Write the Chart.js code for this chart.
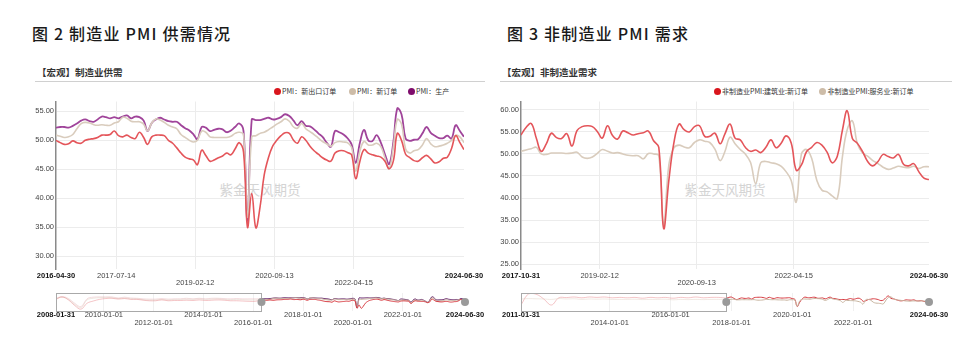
<!DOCTYPE html>
<html lang="zh-CN">
<head>
<meta charset="utf-8">
<title>制造业PMI供需情况 / 非制造业PMI需求</title>
<script src="https://cdn.jsdelivr.net/npm/chart.js@4.4.1/dist/chart.umd.min.js"></script>
<style>
  html, body { margin:0; padding:0; background:#fff; }
  body { position:relative; width:963px; height:338px; overflow:hidden; }
  .abs { position:absolute; white-space:nowrap; }
  .fig-title { font-family:"Noto Sans CJK SC", sans-serif; font-size:16px; line-height:16px; letter-spacing:1.2px; font-weight:500; color:#1a1a1a; }
  .sub-title { font-family:"Noto Sans CJK SC", sans-serif; font-size:9.5px; line-height:10px; font-weight:700; color:#333; }
  .rule { height:1px; background:#d0d0d0; }
  .item { font-family:"Noto Sans CJK SC", sans-serif; font-size:7px; line-height:8px; color:#333; display:flex; align-items:center; }
  .dot { display:inline-block; width:7px; height:7px; border-radius:50%; margin-right:1.5px; }
  .mark { font-family:"Noto Sans CJK SC", sans-serif; font-size:13.5px; line-height:14px; color:#d4d4d4; transform:translate(-50%,-50%); }
  canvas { position:absolute; }
</style>
</head>
<body>
<div class="abs fig-title" style="left:32px;top:25px">图 2 制造业 PMI 供需情况</div>
<div class="abs fig-title" style="left:507px;top:25px">图 3 非制造业 PMI 需求</div>
<div class="abs sub-title" style="left:37px;top:67px">【宏观】制造业供需</div>
<div class="abs sub-title" style="left:502px;top:67px">【宏观】非制造业需求</div>
<div class="abs rule" style="left:35px;top:81px;width:450px"></div>
<div class="abs rule" style="left:500px;top:81px;width:452px"></div>

<div class="abs item" style="left:273.5px;top:87px"><span class="dot" style="background:#d9161d"></span>PMI：新出口订单</div>
<div class="abs item" style="left:348.5px;top:87px"><span class="dot" style="background:#cdbca8"></span>PMI：新订单</div>
<div class="abs item" style="left:407.5px;top:87px"><span class="dot" style="background:#7e0c6c"></span>PMI：生产</div>
<div class="abs item" style="left:713.5px;top:87px"><span class="dot" style="background:#d9161d"></span>非制造业PMI:建筑业:新订单</div>
<div class="abs item" style="left:819px;top:87px"><span class="dot" style="background:#cdbca8"></span>非制造业PMI:服务业:新订单</div>

<div class="abs mark" style="left:260px;top:189px">紫金天风期货</div>
<div class="abs mark" style="left:725px;top:189px">紫金天风期货</div>

<canvas id="mfgMain" width="500" height="200" style="left:0;top:95px"></canvas>
<canvas id="mfgNav" width="500" height="50" style="left:0;top:288px"></canvas>
<canvas id="nonMain" width="500" height="200" style="left:465px;top:95px"></canvas>
<canvas id="nonNav" width="500" height="50" style="left:465px;top:288px"></canvas>

<script>
// ---------- manufacturing PMI: monthly, 2016-04 .. 2024-06 ----------
const mfgFirstMonth = '2016-04';
const mfgExportOrders = [
  50.0, 49.6, 49.3, 49.4, 49.9, 49.6, 49.5, 50.0, 50.2,
  50.3, 50.5, 50.9, 50.9, 51.0, 51.6, 50.8, 50.6, 50.9, 50.5, 50.3, 51.4,
  50.5, 49.3, 50.6, 50.9, 50.9, 50.8, 50.0, 49.5, 48.7, 47.8, 47.1, 46.8,
  46.6, 45.8, 48.3, 47.4, 46.4, 46.6, 47.0, 47.3, 47.8, 47.5, 48.5, 49.6,
  48.0, 35.0, 40.8, 34.9, 38.5, 44.0, 47.0, 49.0, 50.0, 50.8, 51.3, 51.2,
  50.0, 49.5, 50.6, 50.0, 49.0, 48.2, 47.6, 47.0, 46.6, 46.4, 47.8, 48.2,
  48.2, 47.9, 47.5, 43.4, 46.4, 48.4, 47.8, 47.5, 47.3, 47.1, 46.4, 45.1,
  46.5, 51.2, 50.0, 47.6, 47.0, 46.5, 46.4, 47.0, 47.4, 46.8, 46.1, 46.3,
  46.9, 47.1, 48.6, 50.8, 49.6, 48.4
];
const mfgNewOrders = [
  50.9, 50.7, 50.5, 50.6, 51.0, 52.0, 52.9, 53.1, 53.0,
  52.7, 52.6, 52.7, 52.6, 52.6, 53.0, 53.2, 54.0, 53.8, 53.3, 53.2, 53.2,
  52.8, 51.6, 53.0, 53.7, 53.5, 53.1, 52.6, 52.3, 52.0, 51.0, 50.5, 50.0,
  49.7, 50.0, 51.6, 51.4, 50.6, 50.5, 50.5, 50.5, 50.5, 50.7, 51.2, 51.4,
  51.0, 36.7, 50.6, 50.8, 51.2, 51.4, 51.8, 52.3, 52.8, 53.2, 53.7, 53.3,
  52.3, 52.1, 52.9, 52.0, 51.5, 51.0, 50.4, 49.8, 49.4, 49.0, 49.6, 49.8,
  49.7, 49.6, 48.8, 44.7, 48.2, 49.8, 49.2, 49.2, 49.5, 48.9, 47.0, 45.1,
  49.0, 53.6, 52.8, 48.5, 47.8, 48.2, 48.4, 49.2, 50.3, 49.4, 48.9, 49.0,
  49.2, 49.5, 50.0, 50.9, 50.6, 49.6
];
const mfgProduction = [
  52.2, 52.3, 52.3, 52.2, 52.5, 52.9, 53.4, 53.6, 53.3,
  53.2, 53.6, 54.1, 54.0, 53.8, 54.0, 53.8, 54.1, 54.3, 53.8, 54.1, 54.0,
  53.4, 51.6, 53.0, 53.6, 53.9, 53.6, 53.3, 53.2, 53.2, 52.6, 52.1, 51.7,
  51.0, 50.2, 52.3, 52.2, 51.6, 51.8, 52.0, 51.9, 51.4, 51.7, 52.3, 52.9,
  51.6, 36.1, 53.6, 53.5, 53.5, 53.7, 53.9, 53.6, 53.7, 54.0, 54.5, 54.2,
  53.4, 52.6, 53.3, 52.5, 52.4, 51.9, 51.2, 50.6, 49.6, 48.9, 51.6, 51.4,
  51.0, 50.4, 49.3, 46.1, 49.6, 51.8, 50.0, 49.9, 50.9, 49.6, 47.6, 45.9,
  49.8, 55.5, 54.5, 50.3, 49.9, 50.1, 50.2, 51.2, 52.3, 51.3, 50.8, 50.4,
  50.4, 50.8, 50.3, 52.6, 51.6, 50.6
];
// earlier history shown only in the range selector: quarterly, 2008-01 .. 2016-01
const mfgHistFirstMonth = '2008-01';
const mfgExportHist = [
  51.1, 55.3, 50.0, 40.0,  33.3, 44.0, 48.0, 51.0,  52.5, 53.0, 51.5, 52.5,
  51.0, 51.0, 49.5, 48.5,  48.5, 50.0, 48.5, 49.0,  49.0, 49.5, 49.0, 50.0,
  49.0, 49.5, 50.0, 49.5,  48.5, 48.5, 48.0, 47.5,  47.5
];
const mfgNewOrdersHist = [
  52.0, 55.0, 51.0, 42.0,  36.0, 50.0, 53.0, 54.0,  54.5, 54.0, 52.5, 53.5,
  52.0, 52.0, 50.5, 50.0,  50.0, 51.0, 50.0, 51.0,  51.0, 51.5, 51.0, 52.0,
  51.0, 51.5, 52.0, 51.0,  50.5, 51.0, 50.5, 50.0,  50.0
];
const mfgProductionHist = [
  53.0, 56.0, 52.5, 44.0,  38.0, 52.0, 55.0, 55.5,  55.5, 55.5, 53.5, 55.0,
  53.5, 53.0, 52.0, 51.5,  51.5, 52.5, 51.5, 52.0,  52.0, 53.0, 52.0, 53.0,
  52.0, 53.0, 53.0, 52.5,  52.0, 52.5, 52.0, 52.0,  52.0
];

// ---------- non-manufacturing PMI new orders: monthly, 2017-10 .. 2024-06 ----------
const nonFirstMonth = '2017-10';
const constructionNewOrders = [
  54.3, 56.0, 56.9,
  53.5, 50.6, 52.3, 54.7, 53.7, 53.5, 54.6, 51.8, 55.3, 56.2, 56.4, 56.2,
  55.0, 53.6, 56.4, 54.2, 53.4, 55.2, 54.8, 54.3, 54.6, 54.8, 55.2, 53.0,
  51.5, 33.1, 44.0, 52.5, 56.8, 55.5, 55.0, 56.2, 56.4, 54.0, 54.0, 54.7,
  52.3, 54.5, 56.8, 53.6, 53.2, 51.5, 50.6, 50.9, 50.3, 51.5, 53.2, 51.4,
  52.5, 54.1, 52.5, 46.3, 47.5, 50.5, 51.5, 52.6, 52.0, 50.4, 48.0, 49.5,
  55.5, 59.8, 53.5, 52.4, 50.5, 48.3, 47.3, 48.3, 49.9, 49.4, 49.1, 49.9,
  47.6, 47.3, 47.8, 46.0, 44.5, 44.2
];
const servicesNewOrders = [
  50.6, 50.9, 51.2,
  51.5, 50.0, 49.9, 50.2, 50.2, 50.2, 50.1, 50.2, 50.4, 49.3, 49.0, 49.3,
  50.2, 51.0, 50.6, 50.2, 50.3, 50.0, 49.7, 49.6, 49.6, 48.9, 50.1, 50.0,
  49.6, 33.9, 47.5, 51.4, 52.0, 51.6, 51.4, 52.6, 53.2, 52.9, 52.6, 51.1,
  48.5, 50.5, 53.8, 52.3, 51.0, 50.0, 48.1, 43.3, 48.0, 48.3, 48.0, 47.8,
  47.2, 46.0, 44.0, 39.1, 50.0, 51.0, 49.0, 44.0, 41.8, 41.4, 40.5, 39.9,
  49.5, 55.5, 57.5, 52.3, 50.2, 49.5, 48.5, 47.8, 47.0, 46.5, 46.8, 47.2,
  47.0, 46.9, 47.2, 46.7, 47.1, 47.1
];
// range-selector history: quarterly, 2011-01 .. 2017-07
const nonHistFirstMonth = '2011-01';
const constructionHist = [
  37.0, 64.5, 64.0, 52.0,  37.0, 55.0, 55.5, 57.0,  55.0, 57.0, 56.0, 57.0,
  55.0, 56.0, 55.0, 56.0,  54.0, 56.0, 55.0, 56.0,  54.0, 56.0, 55.0, 57.0,
  55.0, 56.0, 56.0
];
const servicesHist = [
  52.0, 53.0, 52.5, 52.0,  51.0, 53.0, 52.0, 52.5,  51.0, 52.0, 51.5, 52.0,
  51.0, 51.0, 51.0, 51.5,  50.5, 51.0, 51.0, 51.5,  50.0, 51.0, 50.5, 51.0,
  50.5, 51.0, 51.0
];

// ---------- axes ----------
const mfgRange = ['2016-04-30', '2024-06-30'];
const mfgTickLabels = ['2016-04-30', '2017-07-14', '2019-02-12', '2020-09-13', '2022-04-15', '2024-06-30'];
const mfgTickRows   = [0, 0, 1, 0, 1, 0];
const mfgYTicks = [30, 35, 40, 45, 50, 55];
const mfgYRange = [27.8, 56.7];
const mfgNavRange = ['2008-01-31', '2024-06-30'];
const mfgNavTickLabels = ['2008-01-31', '2010-01-01', '2012-01-01', '2014-01-01', '2016-01-01', '2018-01-01', '2020-01-01', '2022-01-01', '2024-06-30'];
const mfgNavTickRows   = [0, 0, 1, 0, 1, 0, 1, 0, 0];

const nonRange = ['2017-10-31', '2024-06-30'];
const nonTickLabels = ['2017-10-31', '2019-02-12', '2020-09-13', '2022-04-15', '2024-06-30'];
const nonTickRows   = [0, 0, 1, 0, 0];
const nonYTicks = [25, 30, 35, 40, 45, 50, 55, 60];
const nonYRange = [23.9, 61.9];
const nonNavRange = ['2011-01-31', '2024-06-30'];
const nonNavTickLabels = ['2011-01-31', '2014-01-01', '2016-01-01', '2018-01-01', '2020-01-01', '2022-01-01', '2024-06-30'];
const nonNavTickRows   = [0, 1, 0, 1, 0, 1, 0];

// ---------- helpers ----------
const DAY_MS = 86400000;
const dayOf = s => { const [y, m, d] = s.split('-').map(Number); return Date.UTC(y, m - 1, d) / DAY_MS; };
const dateText = day => new Date(Math.round(day) * DAY_MS).toISOString().slice(0, 10);
function monthEnds(first, count, step) {
  const [y, m] = first.split('-').map(Number);
  const out = [];
  for (let i = 0; i < count; i++) out.push(Date.UTC(y, m + i * step, 0) / DAY_MS);
  return out;
}
const toPoints = (xs, ys) => ys.map((v, i) => ({ x: xs[i], y: v }));

const TICK_FONT = 'Liberation Sans, Arial, sans-serif';

function dateAxis(range, labels, rows, height, padding, lineHeight, gridColor) {
  const ticks = labels.map(dayOf);
  const n = ticks.length;
  const edge = c => c.index === 0 || c.index === n - 1;
  return {
    type: 'linear',
    min: dayOf(range[0]), max: dayOf(range[1]),
    afterBuildTicks: sc => { sc.ticks = ticks.map(v => ({ value: v })); },
    afterFit: sc => { sc.height = height; },
    border: { display: false },
    grid: {
      drawTicks: false, lineWidth: 1,
      color: c => edge(c) ? 'rgba(0,0,0,0)' : gridColor
    },
    ticks: {
      autoSkip: false, maxRotation: 0, minRotation: 0, padding: padding,
      font: c => ({ family: TICK_FONT, size: 7.5, lineHeight: lineHeight, weight: edge(c) ? 'bold' : 'normal' }),
      color: c => edge(c) ? '#111' : '#444',
      callback: (v, i) => rows[i] ? ['', dateText(v)] : dateText(v)
    }
  };
}

function mainChart(id, o) {
  return new Chart(document.getElementById(id), {
    type: 'line',
    data: {
      datasets: o.series.map(s => ({
        data: toPoints(o.xs, s.values), borderColor: s.color, borderWidth: s.width,
        pointRadius: 0, tension: 0.4, fill: false
      }))
    },
    options: {
      responsive: false, animation: false, events: [],
      layout: { padding: { left: 0, right: 36, top: 5, bottom: 0 } },
      plugins: { legend: { display: false }, tooltip: { enabled: false } },
      scales: {
        x: dateAxis(o.range, o.tickLabels, o.tickRows, 26, 3, 1, '#ececec'),
        y: {
          min: o.yRange[0], max: o.yRange[1],
          afterBuildTicks: sc => { sc.ticks = o.yTicks.map(v => ({ value: v })); },
          afterFit: sc => { sc.width = 56; },
          grid: { color: '#ececec', drawTicks: false },
          border: { display: true, color: '#8a8a8a', width: 1.5 },
          ticks: { padding: 2, font: { family: TICK_FONT, size: 7.5 }, color: '#444', callback: v => Number(v).toFixed(2) }
        }
      }
    }
  });
}

// range selector: frame over the part before the shown window, and round handles
const windowFrame = {
  id: 'windowFrame',
  afterDatasetsDraw(chart, args, opts) {
    const { ctx, chartArea: { top, bottom }, scales: { x } } = chart;
    const a = x.getPixelForValue(opts.from), b = x.getPixelForValue(opts.start), e = x.getPixelForValue(opts.end);
    ctx.save();
    ctx.strokeStyle = '#a9a9a9'; ctx.lineWidth = 1;
    ctx.strokeRect(Math.round(a) + 0.5, Math.round(top) + 0.5, Math.round(b - a), Math.round(bottom - top));
    ctx.fillStyle = '#9a9a9a';
    [b, e].forEach(px => { ctx.beginPath(); ctx.arc(px, (top + bottom) / 2, 4, 0, Math.PI * 2); ctx.fill(); });
    ctx.restore();
  }
};

function navChart(id, o) {
  const datasets = [];
  o.series.forEach(s => {
    datasets.push({
      data: toPoints(o.histXs.concat([o.xs[0]]), s.hist.concat([s.values[0]])),
      borderColor: s.faded, borderWidth: 1, pointRadius: 0, tension: 0.4
    });
    datasets.push({
      data: toPoints(o.xs, s.values),
      borderColor: s.color, borderWidth: 1, pointRadius: 0, tension: 0.4
    });
  });
  return new Chart(document.getElementById(id), {
    type: 'line',
    data: { datasets },
    plugins: [windowFrame],
    options: {
      responsive: false, animation: false, events: [],
      layout: { padding: { left: 56, right: o.padRight, top: 5, bottom: 0 } },
      plugins: {
        legend: { display: false }, tooltip: { enabled: false },
        windowFrame: { from: dayOf(o.range[0]), start: dayOf(o.windowRange[0]), end: dayOf(o.windowRange[1]) }
      },
      scales: {
        x: dateAxis(o.range, o.tickLabels, o.tickRows, 27, 0, 1.07, '#f0f0f0'),
        y: { display: false, min: o.yRange[0], max: o.yRange[1] }
      }
    }
  });
}

// ---------- draw ----------
const mfgXs = monthEnds(mfgFirstMonth, mfgProduction.length, 1);
const mfgHistXs = monthEnds(mfgHistFirstMonth, mfgProductionHist.length, 3);
const nonXs = monthEnds(nonFirstMonth, constructionNewOrders.length, 1);
const nonHistXs = monthEnds(nonHistFirstMonth, constructionHist.length, 3);

mainChart('mfgMain', {
  xs: mfgXs, range: mfgRange, tickLabels: mfgTickLabels, tickRows: mfgTickRows,
  yRange: mfgYRange, yTicks: mfgYTicks,
  series: [
    { values: mfgExportOrders, color: '#e4555a', width: 1.6 },
    { values: mfgNewOrders, color: '#d9ccbd', width: 1.6 },
    { values: mfgProduction, color: '#a0449a', width: 1.8 }
  ]
});
mainChart('nonMain', {
  xs: nonXs, range: nonRange, tickLabels: nonTickLabels, tickRows: nonTickRows,
  yRange: nonYRange, yTicks: nonYTicks,
  series: [
    { values: constructionNewOrders, color: '#e4555a', width: 1.6 },
    { values: servicesNewOrders, color: '#d9ccbd', width: 1.6 }
  ]
});
navChart('mfgNav', {
  xs: mfgXs, histXs: mfgHistXs, range: mfgNavRange, windowRange: mfgRange,
  tickLabels: mfgNavTickLabels, tickRows: mfgNavTickRows, yRange: [30, 62.5], padRight: 35,
  series: [
    { values: mfgExportOrders, hist: mfgExportHist, color: '#d63a40', faded: 'rgba(228,110,115,0.4)' },
    { values: mfgNewOrders, hist: mfgNewOrdersHist, color: '#c7b49f', faded: 'rgba(215,195,180,0.4)' },
    { values: mfgProduction, hist: mfgProductionHist, color: '#5e1a63', faded: 'rgba(225,160,170,0.35)' }
  ]
});
navChart('nonNav', {
  xs: nonXs, histXs: nonHistXs, range: nonNavRange, windowRange: nonRange,
  tickLabels: nonNavTickLabels, tickRows: nonNavTickRows, yRange: [22, 67], padRight: 36,
  series: [
    { values: servicesNewOrders, hist: servicesHist, color: '#c7b49f', faded: 'rgba(220,200,185,0.4)' },
    { values: constructionNewOrders, hist: constructionHist, color: '#d63a40', faded: 'rgba(228,110,115,0.4)' }
  ]
});
</script>
</body>
</html>
